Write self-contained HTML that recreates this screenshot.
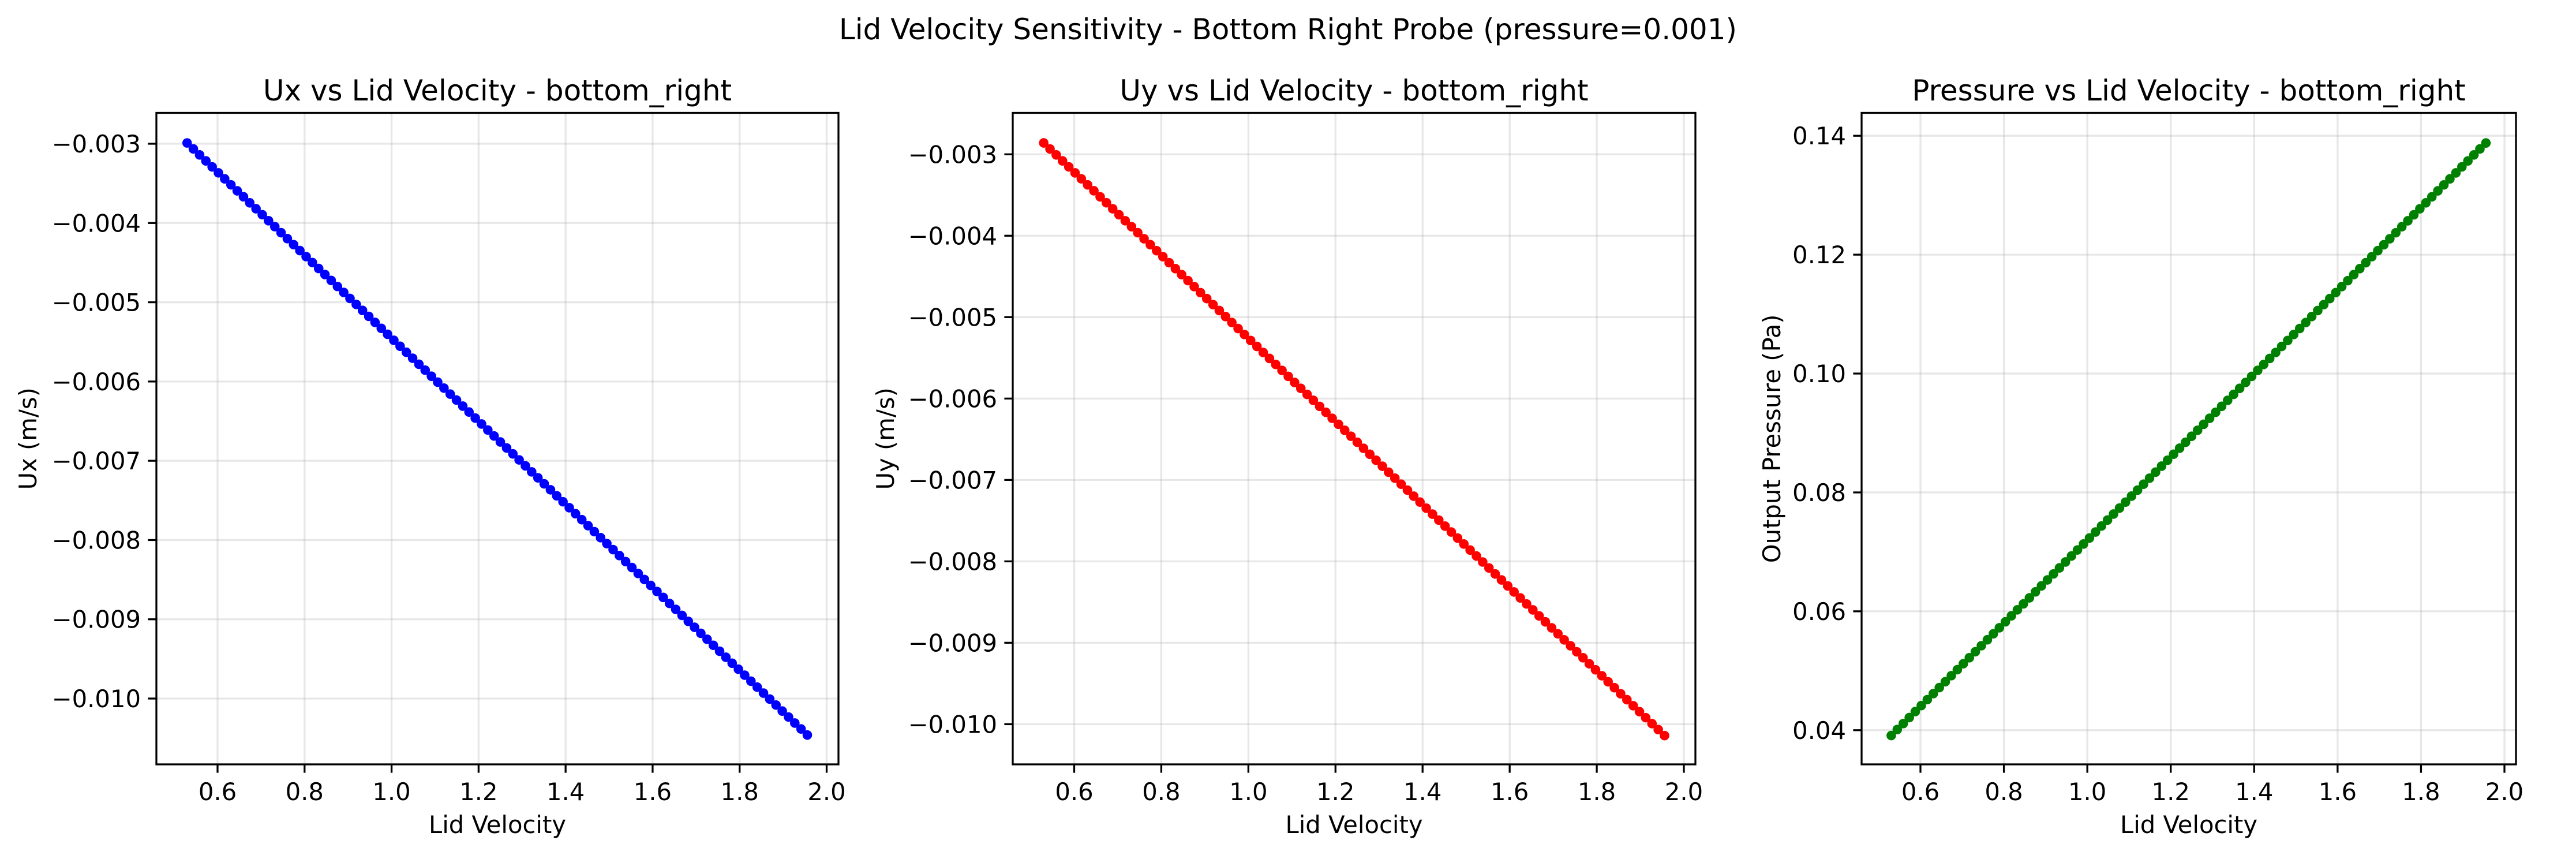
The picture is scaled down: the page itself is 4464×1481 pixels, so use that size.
<!DOCTYPE html>
<html><head><meta charset="utf-8"><style>
html,body{margin:0;padding:0;background:#fff;}
svg{display:block;font-family:"DejaVu Sans","Liberation Sans",sans-serif;}
</style></head><body>
<svg id="fig" xmlns="http://www.w3.org/2000/svg" width="4464" height="1481" viewBox="0 0 4464 1481">
<rect width="4464" height="1481" fill="#fff"/>
<text x="2232" y="68" font-size="50" text-anchor="middle">Lid Velocity Sensitivity - Bottom Right Probe (pressure=0.001)</text>
</svg>
<script>
const lidVelocity=[0.53,0.5444,0.5588,0.5732,0.5876,0.602,0.6164,0.6308,0.6452,0.6596,0.674,0.6884,0.7028,0.7172,0.7316,0.746,0.7604,0.7748,0.7892,0.8036,0.818,0.8324,0.8468,0.8612,0.8756,0.89,0.9044,0.9188,0.9332,0.9476,0.962,0.9764,0.9908,1.0052,1.0196,1.034,1.0484,1.0628,1.0772,1.0916,1.106,1.1204,1.1348,1.1492,1.1636,1.178,1.1924,1.2068,1.2212,1.2356,1.25,1.2644,1.2788,1.2932,1.3076,1.322,1.3364,1.3508,1.3652,1.3796,1.394,1.4084,1.4228,1.4372,1.4516,1.466,1.4804,1.4948,1.5092,1.5236,1.538,1.5524,1.5668,1.5812,1.5956,1.61,1.6244,1.6388,1.6532,1.6676,1.682,1.6964,1.7108,1.7252,1.7396,1.754,1.7684,1.7828,1.7972,1.8116,1.826,1.8404,1.8548,1.8692,1.8836,1.898,1.9124,1.9268,1.9412,1.9556];
const uxValues=[-0.00299,-0.003065,-0.003141,-0.003216,-0.003292,-0.003367,-0.003443,-0.003518,-0.003594,-0.003669,-0.003745,-0.00382,-0.003895,-0.003971,-0.004046,-0.004122,-0.004197,-0.004273,-0.004348,-0.004424,-0.004499,-0.004574,-0.00465,-0.004725,-0.004801,-0.004876,-0.004952,-0.005027,-0.005103,-0.005178,-0.005254,-0.005329,-0.005404,-0.00548,-0.005555,-0.005631,-0.005706,-0.005782,-0.005857,-0.005933,-0.006008,-0.006083,-0.006159,-0.006234,-0.00631,-0.006385,-0.006461,-0.006536,-0.006612,-0.006687,-0.006763,-0.006838,-0.006913,-0.006989,-0.007064,-0.00714,-0.007215,-0.007291,-0.007366,-0.007442,-0.007517,-0.007592,-0.007668,-0.007743,-0.007819,-0.007894,-0.00797,-0.008045,-0.008121,-0.008196,-0.008272,-0.008347,-0.008422,-0.008498,-0.008573,-0.008649,-0.008724,-0.0088,-0.008875,-0.008951,-0.009026,-0.009101,-0.009177,-0.009252,-0.009328,-0.009403,-0.009479,-0.009554,-0.00963,-0.009705,-0.009781,-0.009856,-0.009931,-0.010007,-0.010082,-0.010158,-0.010233,-0.010309,-0.010384,-0.01046];
const uyValues=[-0.00286,-0.002934,-0.003007,-0.003081,-0.003154,-0.003228,-0.003301,-0.003375,-0.003448,-0.003522,-0.003595,-0.003669,-0.003742,-0.003816,-0.003889,-0.003963,-0.004037,-0.00411,-0.004184,-0.004257,-0.004331,-0.004404,-0.004478,-0.004551,-0.004625,-0.004699,-0.004772,-0.004846,-0.004919,-0.004993,-0.005066,-0.00514,-0.005213,-0.005287,-0.00536,-0.005434,-0.005507,-0.005581,-0.005655,-0.005728,-0.005802,-0.005875,-0.005949,-0.006022,-0.006096,-0.006169,-0.006243,-0.006316,-0.00639,-0.006463,-0.006537,-0.006611,-0.006684,-0.006758,-0.006831,-0.006905,-0.006978,-0.007052,-0.007125,-0.007199,-0.007272,-0.007346,-0.00742,-0.007493,-0.007567,-0.00764,-0.007714,-0.007787,-0.007861,-0.007934,-0.008008,-0.008081,-0.008155,-0.008228,-0.008302,-0.008376,-0.008449,-0.008523,-0.008596,-0.00867,-0.008743,-0.008817,-0.00889,-0.008964,-0.009037,-0.009111,-0.009184,-0.009258,-0.009332,-0.009405,-0.009479,-0.009552,-0.009626,-0.009699,-0.009773,-0.009846,-0.00992,-0.009993,-0.010067,-0.01014];
const pressureValues=[0.0391,0.04011,0.04111,0.04212,0.04313,0.04414,0.04514,0.04615,0.04716,0.04816,0.04917,0.05018,0.05118,0.05219,0.0532,0.05421,0.05521,0.05622,0.05723,0.05823,0.05924,0.06025,0.06125,0.06226,0.06327,0.06428,0.06528,0.06629,0.0673,0.0683,0.06931,0.07032,0.07132,0.07233,0.07334,0.07435,0.07535,0.07636,0.07737,0.07837,0.07938,0.08039,0.08139,0.0824,0.08341,0.08442,0.08542,0.08643,0.08744,0.08844,0.08945,0.09046,0.09146,0.09247,0.09348,0.09449,0.09549,0.0965,0.09751,0.09851,0.09952,0.10053,0.10153,0.10254,0.10355,0.10456,0.10556,0.10657,0.10758,0.10858,0.10959,0.1106,0.1116,0.11261,0.11362,0.11463,0.11563,0.11664,0.11765,0.11865,0.11966,0.12067,0.12167,0.12268,0.12369,0.1247,0.1257,0.12671,0.12772,0.12872,0.12973,0.13074,0.13174,0.13275,0.13376,0.13477,0.13577,0.13678,0.13779,0.13879];
const xTicks=[0.6,0.8,1.0,1.2,1.4,1.6,1.8,2.0];
const xTickLabels=["0.6","0.8","1.0","1.2","1.4","1.6","1.8","2.0"];
const uTicks=[-0.003,-0.004,-0.005,-0.006,-0.007,-0.008,-0.009,-0.010];
const uTickLabels=["\u22120.003","\u22120.004","\u22120.005","\u22120.006","\u22120.007","\u22120.008","\u22120.009","\u22120.010"];
const pTicks=[0.04,0.06,0.08,0.10,0.12,0.14];
const pTickLabels=["0.04","0.06","0.08","0.10","0.12","0.14"];

const NS="http://www.w3.org/2000/svg";
const fig=document.getElementById('fig');
function mk(tag,attrs,parent,text){const e=document.createElementNS(NS,tag);for(const k in attrs)e.setAttribute(k,attrs[k]);if(text!==undefined)e.textContent=text;(parent||fig).appendChild(e);return e;}
function lin(d0,d1,r0,r1){return v=>r0+(v-d0)/(d1-d0)*(r1-r0);}

const T=195.5,B=1324;
const panels=[
 {key:'ux',title:'Ux vs Lid Velocity - bottom_right',ylabel:'Ux (m/s)',ys:uxValues,yt:uTicks,ytl:uTickLabels,color:'#0000ff',
  box:[271,T,1453,B],sx:lin(0.6,2.0,377,1432.5),sy:lin(-0.003,-0.010,249,1210),ylx:48},
 {key:'uy',title:'Uy vs Lid Velocity - bottom_right',ylabel:'Uy (m/s)',ys:uyValues,yt:uTicks,ytl:uTickLabels,color:'#ff0000',
  box:[1755,T,2938,B],sx:lin(0.6,2.0,1861.5,2918),sy:lin(-0.003,-0.010,267.3,1254.4),ylx:1534},
 {key:'pressure',title:'Pressure vs Lid Velocity - bottom_right',ylabel:'Output Pressure (Pa)',ys:pressureValues,yt:pTicks,ytl:pTickLabels,color:'#008000',
  box:[3226,T,4360,B],sx:lin(0.6,2.0,3328,4340),sy:lin(0.04,0.14,1264.8,235.2),ylx:3070}
];

panels.forEach(p=>{
 const [l,t,r,b]=p.box;
 const g=mk('g',{});
 
 
 xTicks.forEach(v=>{const x=p.sx(v);const ln=mk('line',{x1:x,x2:x,y1:t,y2:b,stroke:'#b0b0b0','stroke-opacity':0.3,'stroke-width':3.3},g);
  });
 p.yt.forEach(v=>{const y=p.sy(v);const ln=mk('line',{x1:l,x2:r,y1:y,y2:y,stroke:'#b0b0b0','stroke-opacity':0.3,'stroke-width':3.3},g);
  });
 const pts=lidVelocity.map((x,i)=>p.sx(x).toFixed(1)+','+p.sy(p.ys[i]).toFixed(1)).join(' ');
 const pl=mk('polyline',{points:pts,fill:'none',stroke:p.color,'stroke-width':6,'stroke-linejoin':'round'},g);
 
 lidVelocity.forEach((x,i)=>{const c=mk('circle',{cx:p.sx(x),cy:p.sy(p.ys[i]),r:8.3,fill:p.color},g);
  });
 const fr=mk('rect',{x:l,y:t,width:r-l,height:b-t,fill:'none',stroke:'#000','stroke-width':3.3},g);
 
 xTicks.forEach((v,i)=>{const x=p.sx(v);mk('line',{x1:x,x2:x,y1:b,y2:b+14.6,stroke:'#000','stroke-width':3.3},g);
  const tx=mk('text',{x:x,y:1386,'font-size':41.7,'text-anchor':'middle'},g,xTickLabels[i]);
  });
 p.yt.forEach((v,i)=>{const y=p.sy(v);mk('line',{x1:l,x2:l-14.6,y1:y,y2:y,stroke:'#000','stroke-width':3.3},g);
  const tx=mk('text',{x:l-27,y:y+15,'font-size':41.7,'text-anchor':'end'},g,p.ytl[i]);
  });
 const tt=mk('text',{x:(l+r)/2,y:174,'font-size':50,'text-anchor':'middle'},g,p.title);
 
 const xl=mk('text',{x:(l+r)/2,y:1443,'font-size':41.7,'text-anchor':'middle'},g,'Lid Velocity');
 
 const cy=(t+b)/2;
 const yl=mk('text',{x:p.ylx+15,y:cy,'font-size':41.7,'text-anchor':'middle',transform:'rotate(-90 '+(p.ylx+15)+' '+cy+')'},g,p.ylabel);
 
});
</script>
</body></html>
